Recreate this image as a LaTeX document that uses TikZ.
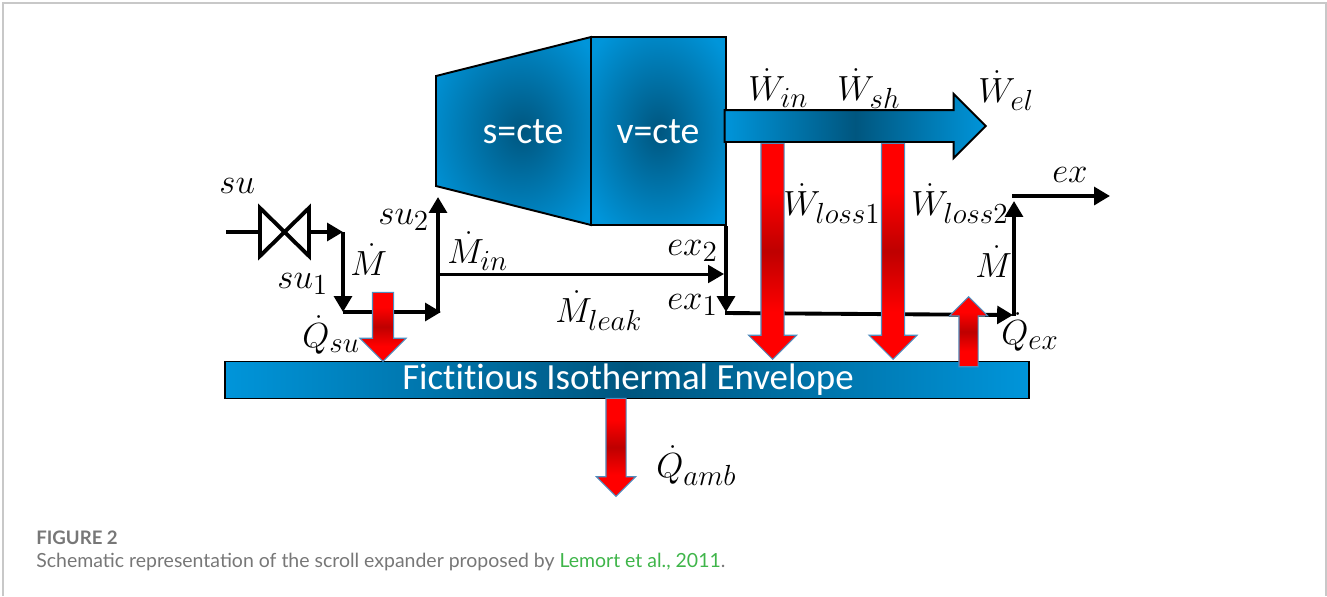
\documentclass[tikz,border=0pt]{standalone}
\usepackage{amsmath}
\usepackage[no-math]{fontspec}
\usetikzlibrary{arrows.meta, shapes.arrows}
\newfontfamily\boxfont[Ligatures=NoCommon]{Carlito}
\newfontfamily\captionfont{Lato}
\DeclareMathSizes{17.28}{17.28}{14.4}{12}
\definecolor{bluelight}{HTML}{0095DA}
\definecolor{bluedark}{HTML}{00567F}
\definecolor{redcore}{HTML}{BE0000}
\definecolor{arrowedge}{HTML}{4F8DBE}
\definecolor{framegray}{HTML}{C8C8C8}
\definecolor{captiongray}{HTML}{777777}
\definecolor{linkgreen}{HTML}{3FB54A}
\pgfdeclareradialshading{bluecore}{\pgfpointorigin}{color(0bp)=(bluedark); color(32bp)=(bluelight); color(50bp)=(bluelight)}
\pgfdeclareradialshading{bluecoreright}{\pgfpoint{3bp}{0bp}}{color(0bp)=(bluedark); color(32bp)=(bluelight); color(50bp)=(bluelight)}
\pgfdeclareverticalshading{redglow}{100bp}{color(0bp)=(red); color(36bp)=(red); color(50bp)=(redcore); color(64bp)=(red); color(100bp)=(red)}

\begin{document}
\begin{tikzpicture}[x=0.02cm, y=-0.02cm,
    flow/.style={line width=2.2pt, -{Triangle[length=9pt, width=10pt]}},
    pipe/.style={line width=2.2pt},
    bluepart/.style={draw=black, line width=1.1pt, shading=bluecore},
    bluebar/.style={draw=black, line width=1.1pt, left color=bluelight, right color=bluelight, middle color=bluedark},
    heat/.style={single arrow, anchor=tip, shading=redglow, draw=arrowedge, line width=0.6pt, single arrow head indent=0pt, inner sep=0.2cm, single arrow head extend=0.25cm},
    var/.style={anchor=base west, inner sep=0pt, font=\LARGE, scale=1.15},
    boxtext/.style={text=white, inner sep=0pt, font=\boxfont\fontsize{21.5}{24}\selectfont}]
    \useasboundingbox (0, 0) rectangle (1327, 596);
    \draw[framegray, line width=0.8pt] (3, 596) -- (3, 3) -- (1326, 3) -- (1326, 596);

    \path[bluepart, shading=bluecoreright] (436, 76) -- (591, 37) -- (591, 225) -- (436, 186) -- cycle;
    \node[bluepart, minimum width=2.7cm, minimum height=3.76cm, inner sep=0pt] (vcte) at (658.5, 131) {};
    \node[boxtext] (stext) at (523, 132) {s=cte};
    \node[boxtext] (vtext) at (658, 132) {v=cte};
    \node[bluebar, minimum width=16.08cm, minimum height=0.74cm, inner sep=0pt] (envelope) at (627, 380) {};
    \node[boxtext, font=\boxfont\fontsize{21}{24}\selectfont] (envtext) at (628, 380) {Fictitious Isothermal Envelope};
    \node[bluebar, single arrow, anchor=tip, single arrow head indent=0pt, inner sep=0.3cm, single arrow head extend=0.32cm, minimum height=5.22cm, minimum width=0pt] (shaft) at (987, 126) {};

    \coordinate (sustart) at (226, 232);
    \coordinate (valvein) at (260, 232);
    \coordinate (valveout) at (309, 232);
    \coordinate (corner1) at (343, 232);
    \coordinate (corner2) at (343, 312);
    \coordinate (corner3) at (441, 312);
    \coordinate (corner3b) at (438, 313);
    \coordinate (su2end) at (438, 197);
    \coordinate (branch) at (438, 274);
    \coordinate (merge) at (724, 274);
    \coordinate (extop) at (726, 226);
    \coordinate (corner4) at (726, 312);
    \coordinate (corner4b) at (725, 313);
    \coordinate (corner5) at (1013, 315);
    \coordinate (corner5b) at (1014, 316);
    \coordinate (corner6) at (1014, 201);
    \coordinate (exstart) at (1012, 196);
    \coordinate (exend) at (1110, 196);

    \draw[pipe] (sustart) -- (valvein);
    \draw[pipe, line join=miter] (260, 208) -- (309, 256) -- (309, 208) -- (260, 256) -- cycle;
    \draw[flow] (valveout) -- (corner1);
    \draw[flow] (corner1) -- (corner2);
    \draw[flow] (corner2) -- (corner3);
    \draw[flow] (corner3b) -- (su2end);
    \draw[flow, line width=1.7pt] (branch) -- (merge);
    \draw[flow] (extop) -- (corner4);
    \draw[flow] (corner4b) -- (corner5);
    \draw[flow] (corner5b) -- (corner6);
    \draw[flow] (exstart) -- (exend);

    \node[heat, shape border rotate=270, minimum height=1.38cm] (qsu) at (383, 362) {};
    \node[heat, shape border rotate=270, inner sep=0.22cm, single arrow head extend=0.25cm, minimum height=4.32cm] (loss1) at (772.5, 360) {};
    \node[heat, shape border rotate=270, inner sep=0.22cm, single arrow head extend=0.25cm, minimum height=4.32cm] (loss2) at (893, 360) {};
    \node[heat, shape border rotate=90, inner sep=0.18cm, single arrow head extend=0.19cm, minimum height=1.4cm] (qex) at (968.5, 296) {};
    \node[heat, shape border rotate=270, inner sep=0.19cm, single arrow head extend=0.19cm, minimum height=1.96cm] (qamb) at (616, 497) {};

    \node[var] (su) at (219, 193) {$su$};
    \node[var] (su1) at (277, 288) {$su_1$};
    \node[var] (mdot1) at (350, 275) {$\dot{M}$};
    \node[var] (su2) at (378, 224) {$su_2$};
    \node[var] (min) at (447, 263) {$\dot{M}_{in}$};
    \node[var] (qsulabel) at (302, 347) {$\dot{Q}_{su}$};
    \node[var] (ex2) at (667, 255) {$ex_2$};
    \node[var] (ex1) at (667, 309) {$ex_1$};
    \node[var] (mleak) at (555, 322) {$\dot{M}_{leak}$};
    \node[var] (win) at (748, 100) {$\dot{W}_{in}$};
    \node[var] (wsh) at (837, 100) {$\dot{W}_{sh}$};
    \node[var] (wel) at (978, 102) {$\dot{W}_{el}$};
    \node[var] (wloss1) at (783, 215) {$\dot{W}_{loss1}$};
    \node[var] (wloss2) at (911, 215) {$\dot{W}_{loss2}$};
    \node[var] (ex) at (1052, 182) {$ex$};
    \node[var] (mdot2) at (975, 277) {$\dot{M}$};
    \node[var] (qexlabel) at (1001, 344) {$\dot{Q}_{ex}$};
    \node[var] (qamblabel) at (656, 477) {$\dot{Q}_{amb}$};

    \node[anchor=base west, inner sep=0pt, text=captiongray, font=\captionfont\bfseries\fontsize{10.6}{12}\selectfont] (figlabel) at (36, 544) {FIGURE 2};
    \node[anchor=base west, inner sep=0pt, text=captiongray, font=\captionfont\fontsize{11.08}{13}\selectfont] (caption) at (36, 567) {Schematic representation of the scroll expander proposed by \textcolor{linkgreen}{Lemort et al., 2011}.};
\end{tikzpicture}
\end{document}
